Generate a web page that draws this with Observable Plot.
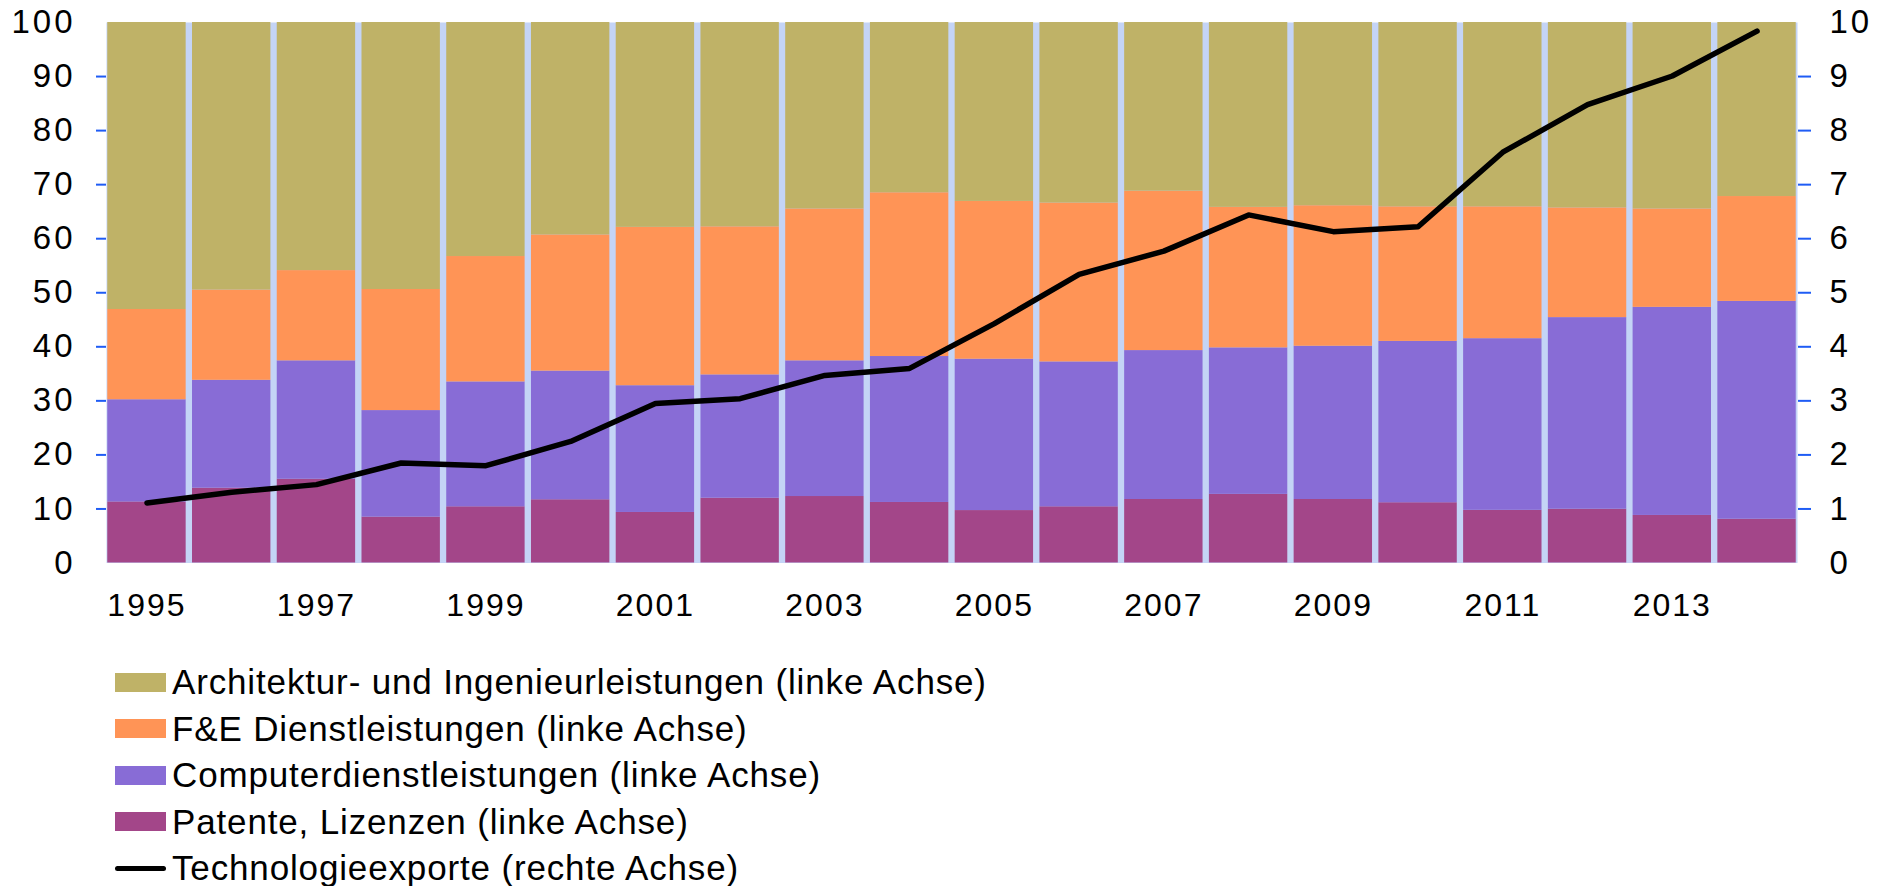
<!DOCTYPE html>
<html>
<head>
<meta charset="utf-8">
<script src="https://cdn.jsdelivr.net/npm/d3@7"></script>
<script src="https://cdn.jsdelivr.net/npm/@observablehq/plot@0.6"></script>
<style>
  html, body { margin: 0; padding: 0; background: #ffffff; }
  #wrap { position: relative; width: 1878px; height: 886px; font-family: "Liberation Sans", Arial, sans-serif; }
  #legend { position: absolute; left: 115px; top: 659px; }
  .row { display: flex; align-items: center; height: 46.5px; line-height: 46.5px; font-size: 35px; letter-spacing: 0.85px; color: #000; white-space: nowrap; }
  .sw { width: 51px; height: 19px; margin-right: 6px; flex: none; }
  .ln { width: 51px; height: 5px; margin-right: 6px; flex: none; background: #000; border-radius: 3px; }
  #chart g[aria-label="x-axis tick label"] { letter-spacing: 2px; }
  #chart g[aria-label="y-axis tick label"] { letter-spacing: 3px; }
</style>
</head>
<body>
<div id="wrap"><div id="chart"></div><div id="legend"></div></div>
<script>
const years = [1995, 1996, 1997, 1998, 1999, 2000, 2001, 2002, 2003, 2004,
               2005, 2006, 2007, 2008, 2009, 2010, 2011, 2012, 2013, 2014];
const yearLabels = [1995, 1997, 1999, 2001, 2003, 2005, 2007, 2009, 2011, 2013];

// left axis, percent shares (stacked from bottom)
const patente     = [11.3, 13.85, 15.5, 8.5, 10.4, 11.7, 9.35, 12.0, 12.3, 11.2, 9.7, 10.4, 11.75, 12.7, 11.75, 11.15, 9.75, 9.95, 8.8, 8.1];
const computer    = [18.9, 19.95, 21.9, 19.7, 23.1, 23.8, 23.45, 22.8, 25.1, 27.0, 28.0, 26.8, 27.55, 27.1, 28.35, 29.85, 31.75, 35.45, 38.5, 40.3];
const fue         = [16.7, 16.7, 16.7, 22.4, 23.2, 25.2, 29.3, 27.4, 28.1, 30.3, 29.2, 29.4, 29.5, 26.0, 26.0, 24.9, 24.4, 20.3, 18.2, 19.4];
const architektur = [53.1, 49.5, 45.9, 49.4, 43.3, 39.3, 37.9, 37.8, 34.5, 31.5, 33.1, 33.4, 31.2, 34.2, 33.9, 34.1, 34.1, 34.3, 34.5, 32.2];
// right axis
const technologie = [1.11, 1.31, 1.45, 1.85, 1.8, 2.25, 2.95, 3.04, 3.47, 3.6, 4.43, 5.34, 5.77, 6.44, 6.13, 6.22, 7.6, 8.48, 9.01, 9.84];

const leftTicks = [0, 10, 20, 30, 40, 50, 60, 70, 80, 90, 100];
const leftTickMarks = [10, 20, 30, 40, 50, 60, 70, 80, 90];
const rightTicks = [0, 1, 2, 3, 4, 5, 6, 7, 8, 9, 10];
const rightTickMarks = [1, 2, 3, 4, 5, 6, 7, 8, 9];

const seriesNames = [
  "Patente, Lizenzen (linke Achse)",
  "Computerdienstleistungen (linke Achse)",
  "F&E Dienstleistungen (linke Achse)",
  "Architektur- und Ingenieurleistungen (linke Achse)"
];
const seriesColors = ["#a34689", "#886cd6", "#ff9456", "#bfb267"];
const lineName = "Technologieexporte (rechte Achse)";

const seriesValues = [patente, computer, fue, architektur];
const table = [];
seriesNames.forEach((s, si) => {
  years.forEach((yr, i) => table.push({year: yr, series: s, value: seriesValues[si][i]}));
});
const lineData = years.map((yr, i) => ({year: yr, value: technologie[i]}));

const RIGHT = 10; // right axis 0..10 drawn on the left 0..100 scale

const blue = "#1f5cf5";
const chart = Plot.plot({
  width: 1878,
  height: 640,
  marginLeft: 106,
  marginRight: 81,
  marginTop: 22,
  marginBottom: 77.5,
  style: {fontFamily: "'Liberation Sans', Arial, sans-serif", fontSize: "33px", color: "#000", background: "#fff", overflow: "visible"},
  x: {type: "band", domain: years, paddingInner: 0.075, paddingOuter: 0.015, round: false, axis: null},
  y: {domain: [0, 100], axis: null},
  color: {domain: seriesNames, range: seriesColors},
  marks: [
    Plot.frame({fill: "#c4d4f6", stroke: "none"}),
    Plot.barY(table, {x: "year", y: "value", fill: "series", order: seriesNames}),
    Plot.line(lineData, {x: "year", y: d => d.value * RIGHT, stroke: "#000", strokeWidth: 5.5, strokeLinecap: "round", strokeLinejoin: "round"}),
    Plot.axisX({ticks: yearLabels, tickSize: 0, tickPadding: 30, fontSize: 32, label: null, tickFormat: d => String(d)}),
    Plot.axisY({ticks: leftTickMarks, tickSize: 10, tickFormat: () => "", label: null, stroke: blue, strokeWidth: 2}),
    Plot.axisY({ticks: leftTicks, tickSize: 0, tickPadding: 31, fontSize: 33, label: null}),
    Plot.axisY({anchor: "right", ticks: rightTickMarks.map(d => d * RIGHT), tickSize: 13, tickFormat: () => "", label: null, stroke: blue, strokeWidth: 2}),
    Plot.axisY({anchor: "right", ticks: rightTicks.map(d => d * RIGHT), tickSize: 0, tickPadding: 32, fontSize: 33, label: null, tickFormat: d => String(d / RIGHT)})
  ]
});
document.getElementById("chart").appendChild(chart);

// legend (top to bottom: reversed stack order, then line)
const legend = document.getElementById("legend");
[3, 2, 1, 0].forEach(i => {
  const row = document.createElement("div");
  row.className = "row";
  const sw = document.createElement("span");
  sw.className = "sw";
  sw.style.background = seriesColors[i];
  const tx = document.createElement("span");
  tx.textContent = seriesNames[i];
  row.appendChild(sw); row.appendChild(tx);
  legend.appendChild(row);
});
{
  const row = document.createElement("div");
  row.className = "row";
  const ln = document.createElement("span");
  ln.className = "ln";
  const tx = document.createElement("span");
  tx.textContent = lineName;
  row.appendChild(ln); row.appendChild(tx);
  legend.appendChild(row);
}
</script>
</body>
</html>
